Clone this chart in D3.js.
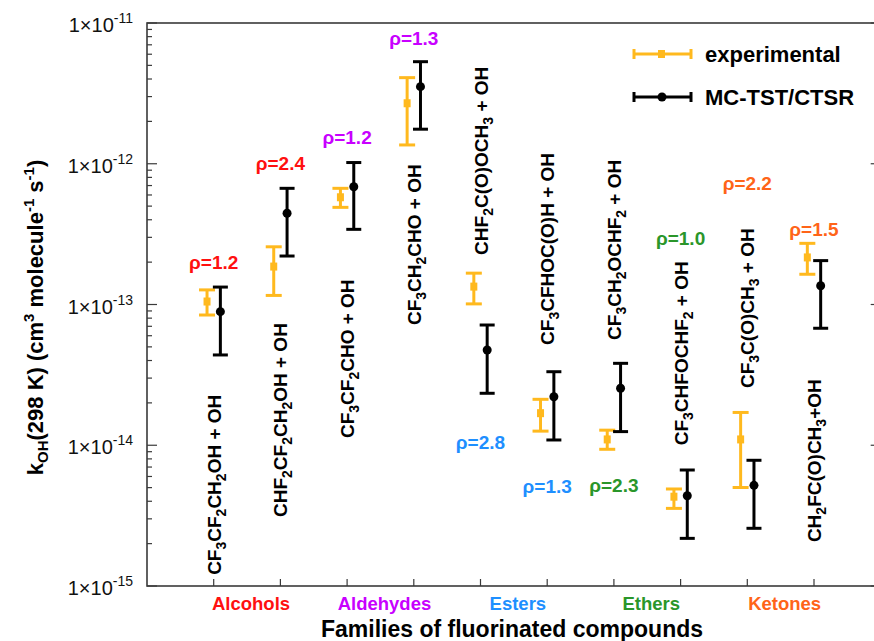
<!DOCTYPE html>
<html>
<head>
<meta charset="utf-8">
<script src="https://cdn.jsdelivr.net/npm/d3@7"></script>
<style>
  body { margin: 0; background: #fff; }
  text { font-family: "Liberation Sans", Arial, Helvetica, sans-serif; }
</style>
</head>
<body>
<script>
// compounds, two per family
const compounds = [
  "CF3CF2CH2OH + OH", "CHF2CF2CH2OH + OH",
  "CF3CF2CHO + OH", "CF3CH2CHO + OH",
  "CHF2C(O)OCH3 + OH", "CF3CFHOC(O)H + OH",
  "CF3CH2OCHF2 + OH", "CF3CHFOCHF2 + OH",
  "CF3C(O)CH3 + OH", "CH2FC(O)CH3+OH"
];
const families = ["Alcohols", "Aldehydes", "Esters", "Ethers", "Ketones"];
const familyColors = ["#ff1010", "#c800ff", "#1e8fff", "#2a962a", "#ff6418"];

// experimental k(OH) and error range
const expVal = [1.05e-13, 1.86e-13, 5.78e-13, 2.69e-12, 1.34e-13, 1.69e-14, 1.10e-14, 4.31e-15, 1.10e-14, 2.16e-13];
const expHi  = [1.27e-13, 2.57e-13, 6.69e-13, 4.09e-12, 1.67e-13, 2.12e-14, 1.28e-14, 4.89e-15, 1.71e-14, 2.72e-13];
const expLo  = [8.42e-14, 1.16e-13, 4.90e-13, 1.36e-12, 1.01e-13, 1.26e-14, 9.36e-15, 3.56e-15, 5.01e-15, 1.64e-13];

// MC-TST/CTSR k(OH) and error range
const calcVal = [8.89e-14, 4.45e-13, 6.87e-13, 3.53e-12, 4.75e-14, 2.21e-14, 2.54e-14, 4.38e-15, 5.19e-15, 1.36e-13];
const calcHi  = [1.33e-13, 6.69e-13, 1.02e-12, 5.31e-12, 7.15e-14, 3.33e-14, 3.82e-14, 6.67e-15, 7.82e-15, 2.05e-13];
const calcLo  = [4.38e-14, 2.21e-13, 3.42e-13, 1.76e-12, 2.34e-14, 1.09e-14, 1.25e-14, 2.18e-15, 2.57e-15, 6.78e-14];

// rho annotations and where they sit (k value)
const rho = ["1.2", "2.4", "1.2", "1.3", "2.8", "1.3", "2.3", "1.0", "2.2", "1.5"];
const rhoAt = [2.0e-13, 1.01e-12, 1.55e-12, 7.8e-12, 1.06e-14, 5.1e-15, 5.2e-15, 2.97e-13, 7.3e-13, 3.44e-13];
// where each rotated compound label starts (k value)
const labelAt = [1.2e-15, 3.09e-15, 1.125e-14, 7.15e-14, 2.25e-13, 5.16e-14, 5.6e-14, 1.0e-14, 2.55e-14, 2.05e-15];

const yTicks = [1e-15, 1e-14, 1e-13, 1e-12, 1e-11];
const yTickExp = ["-15", "-14", "-13", "-12", "-11"];

const w = 874;
const h = 641;
const svg = d3.select("body")
  .append("svg")
  .attr("width", w)
  .attr("height", h);

const x = d3.scaleLinear().domain([0, 11]).range([147, 880.7]);
const y = d3.scaleLog().domain([1e-15, 1e-11]).range([586, 23]);

const axisColor = "#3a3a3a";

// frame
svg.append("rect")
  .attr("x", x(0))
  .attr("y", y(1e-11))
  .attr("width", x(11) - x(0))
  .attr("height", y(1e-15) - y(1e-11))
  .attr("fill", "none")
  .attr("stroke", axisColor)
  .attr("stroke-width", 1.6);

// log ticks on left and right, pointing inward
const allTicks = y.ticks();
const isMajor = (d) => Math.abs(Math.log10(d) - Math.round(Math.log10(d))) < 1e-6;
svg.selectAll("line.ytl")
  .data(allTicks)
  .join("line")
  .attr("class", "ytl")
  .attr("x1", x(0))
  .attr("x2", (d) => x(0) + (isMajor(d) ? 10 : 5))
  .attr("y1", (d) => y(d))
  .attr("y2", (d) => y(d))
  .attr("stroke", axisColor)
  .attr("stroke-width", 1.2);
svg.selectAll("line.ytr")
  .data(allTicks)
  .join("line")
  .attr("class", "ytr")
  .attr("x1", x(11))
  .attr("x2", (d) => x(11) - (isMajor(d) ? 10 : 5))
  .attr("y1", (d) => y(d))
  .attr("y2", (d) => y(d))
  .attr("stroke", axisColor)
  .attr("stroke-width", 1.2);

// bottom ticks
svg.selectAll("line.xt")
  .data(d3.range(1, 11))
  .join("line")
  .attr("class", "xt")
  .attr("x1", (d) => x(d))
  .attr("x2", (d) => x(d))
  .attr("y1", y(1e-15))
  .attr("y2", y(1e-15) - 7)
  .attr("stroke", axisColor)
  .attr("stroke-width", 1.2);

// y tick labels 1x10^n
const yl = svg.selectAll("text.ylab")
  .data(yTicks)
  .join("text")
  .attr("class", "ylab")
  .attr("x", 133)
  .attr("y", (d) => y(d) + 9)
  .attr("text-anchor", "end")
  .style("font-size", "20px")
  .style("fill", "#111");
yl.append("tspan").text("1\u00d710");
yl.append("tspan")
  .attr("dy", -9)
  .style("font-size", "14px")
  .text((d, i) => yTickExp[i]);

// y axis title
const yt = svg.append("text")
  .attr("transform", "translate(43," + ((23 + 586) / 2 + 13) + ") rotate(-90)")
  .attr("text-anchor", "middle")
  .style("font-size", "22px")
  .style("font-weight", "bold");
yt.append("tspan").text("k");
yt.append("tspan").attr("dy", 5).style("font-size", "15px").text("OH");
yt.append("tspan").attr("dy", -5).text("(298 K) (cm");
yt.append("tspan").attr("dy", -9).style("font-size", "15px").text("3");
yt.append("tspan").attr("dy", 9).text(" molecule");
yt.append("tspan").attr("dy", -9).style("font-size", "15px").text("-1");
yt.append("tspan").attr("dy", 9).text(" s");
yt.append("tspan").attr("dy", -9).style("font-size", "15px").text("-1");
yt.append("tspan").attr("dy", 9).text(")");

// x axis title and families
svg.append("text")
  .attr("x", 512)
  .attr("y", 637)
  .attr("text-anchor", "middle")
  .style("font-size", "23px")
  .style("font-weight", "bold")
  .text("Families of fluorinated compounds");

svg.selectAll("text.fam")
  .data(families)
  .join("text")
  .attr("class", "fam")
  .attr("x", (d, i) => x(i * 2 + 1.56))
  .attr("y", 610)
  .attr("text-anchor", "middle")
  .style("font-size", "18.5px")
  .style("font-weight", "bold")
  .style("fill", (d, i) => familyColors[i])
  .text((d) => d);

// rotated compound labels, digits as subscripts
compounds.forEach((name, i) => {
  const t = svg.append("text")
    .attr("transform", "translate(" + (x(i + 1) + 7) + "," + y(labelAt[i]) + ") rotate(-90)")
    .attr("text-anchor", "start")
    .style("font-size", "19px")
    .style("font-weight", "bold");
  const parts = name.match(/\d+|\D+/g);
  let shifted = false;
  parts.forEach((p) => {
    const isNum = /^\d+$/.test(p);
    const s = t.append("tspan").text(p);
    if (isNum && !shifted) { s.attr("dy", 5).style("font-size", "14px"); shifted = true; }
    else if (!isNum && shifted) { s.attr("dy", -5); shifted = false; }
  });
});

// rho annotations
svg.selectAll("text.rho")
  .data(rho)
  .join("text")
  .attr("class", "rho")
  .attr("x", (d, i) => x(i + 1))
  .attr("y", (d, i) => y(rhoAt[i]) + 7)
  .attr("text-anchor", "middle")
  .style("font-size", "19px")
  .style("font-weight", "bold")
  .style("fill", (d, i) => familyColors[Math.floor(i / 2)])
  .text((d) => "\u03c1=" + d);

// error bars
const expColor = "#ffb91e";
function errorBars(cls, vals, lo, hi, offset, color, capW) {
  const g = svg.append("g").attr("class", cls);
  g.selectAll("line.v")
    .data(vals)
    .join("line")
    .attr("x1", (d, i) => x(i + 1 + offset))
    .attr("x2", (d, i) => x(i + 1 + offset))
    .attr("y1", (d, i) => y(lo[i]))
    .attr("y2", (d, i) => y(hi[i]))
    .attr("stroke", color)
    .attr("stroke-width", 3);
  [lo, hi].forEach((arr) => {
    g.selectAll(null)
      .data(arr)
      .join("line")
      .attr("x1", (d, i) => x(i + 1 + offset) - capW / 2)
      .attr("x2", (d, i) => x(i + 1 + offset) + capW / 2)
      .attr("y1", (d) => y(d))
      .attr("y2", (d) => y(d))
      .attr("stroke", color)
      .attr("stroke-width", 3);
  });
  return g;
}

const ge = errorBars("exp", expVal, expLo, expHi, -0.1, expColor, 16);
ge.selectAll("rect")
  .data(expVal)
  .join("rect")
  .attr("x", (d, i) => x(i + 0.9) - 3.5)
  .attr("y", (d) => y(d) - 4)
  .attr("width", 7)
  .attr("height", 8)
  .attr("fill", expColor);

const gc = errorBars("calc", calcVal, calcLo, calcHi, 0.1, "#000", 15);
gc.selectAll("circle")
  .data(calcVal)
  .join("circle")
  .attr("cx", (d, i) => x(i + 1.1))
  .attr("cy", (d) => y(d))
  .attr("r", 4.5)
  .attr("fill", "#000");

// legend
const legend = [
  { name: "experimental", color: expColor, y: 54 },
  { name: "MC-TST/CTSR", color: "#000", y: 97 }
];
legend.forEach((l) => {
  svg.append("line")
    .attr("x1", 634).attr("x2", 691)
    .attr("y1", l.y).attr("y2", l.y)
    .attr("stroke", l.color).attr("stroke-width", 3);
  [634, 691].forEach((cx) => {
    svg.append("line")
      .attr("x1", cx).attr("x2", cx)
      .attr("y1", l.y - 5).attr("y2", l.y + 5)
      .attr("stroke", l.color).attr("stroke-width", 3);
  });
  svg.append("text")
    .attr("x", 705)
    .attr("y", l.y + 8)
    .style("font-size", "22px")
    .style("font-weight", "bold")
    .text(l.name);
});
svg.append("rect")
  .attr("x", 658).attr("y", 50).attr("width", 7).attr("height", 8)
  .attr("fill", expColor);
svg.append("circle")
  .attr("cx", 662).attr("cy", 97).attr("r", 4.5)
  .attr("fill", "#000");
</script>
</body>
</html>
